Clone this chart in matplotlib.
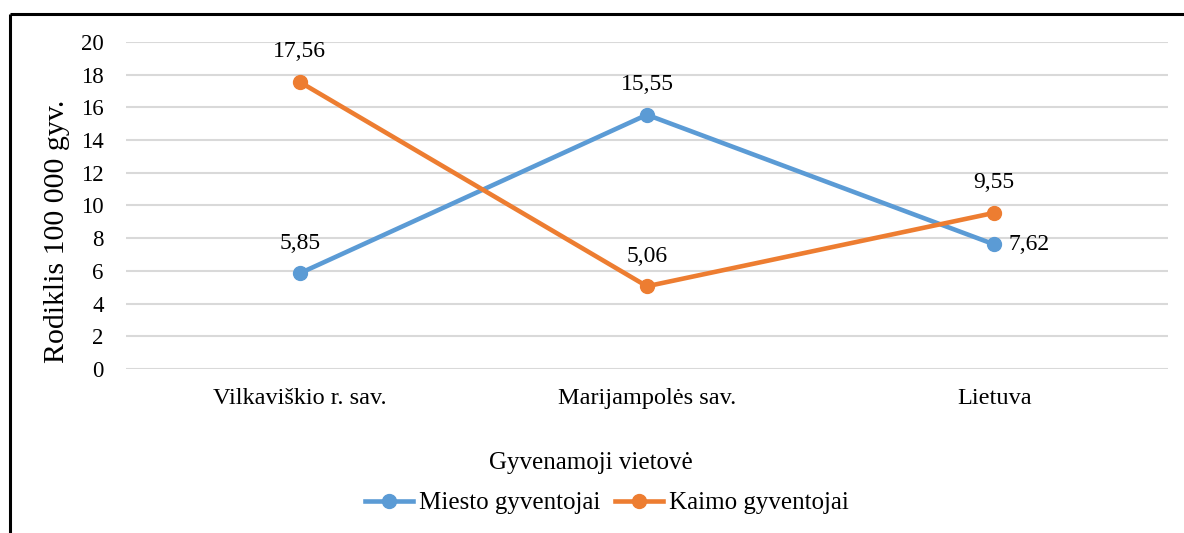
import matplotlib.pyplot as plt

# duomenys
vietoves = ['Vilkaviškio r. sav.', 'Marijampolės sav.', 'Lietuva']
miesto = [5.85, 15.55, 7.62]
kaimo = [17.56, 5.06, 9.55]
y_ticks = [0, 2, 4, 6, 8, 10, 12, 14, 16, 18, 20]

plt.rcParams['font.family'] = ['Liberation Serif', 'DejaVu Serif']

fig = plt.figure(figsize=(11.84, 5.33), dpi=100)
ax = fig.add_axes([0.1064, 0.3077, 0.88, 0.6135])

# rėmelis (kairė ir viršus)
fig.add_artist(plt.Line2D([0.0085, 0.0085], [0, 0.974], color='black', lw=2.2,
                          transform=fig.transFigure, solid_capstyle='butt'))
fig.add_artist(plt.Line2D([0.0085, 1.0], [0.974, 0.974], color='black', lw=2.2,
                          transform=fig.transFigure, solid_capstyle='butt'))

x = range(len(vietoves))
ax.plot(x, miesto, color='#5B9BD5', lw=3.3, marker='o', ms=10,
        label='Miesto gyventojai', zorder=3)
ax.plot(x, kaimo, color='#ED7D31', lw=3.3, marker='o', ms=10,
        label='Kaimo gyventojai', zorder=3)

def fmt(v):
    return f'{v:.2f}'.replace('.', ',')

for i, v in enumerate(miesto):
    if i == 2:
        ax.annotate(fmt(v), (i, v), xytext=(10, 0), textcoords='offset points',
                    ha='left', va='center', fontsize=17)
    else:
        ax.annotate(fmt(v), (i, v), xytext=(0, 14), textcoords='offset points',
                    ha='center', va='bottom', fontsize=17)
for i, v in enumerate(kaimo):
    ax.annotate(fmt(v), (i, v), xytext=(0, 14), textcoords='offset points',
                ha='center', va='bottom', fontsize=17)

ax.set_xlim(-0.5, 2.5)
ax.set_ylim(0, 20)
ax.set_yticks(y_ticks)
ax.set_xticks(list(x))
ax.set_xticklabels(vietoves)
ax.tick_params(length=0)
ax.tick_params(axis='x', labelsize=17.5, pad=14)
ax.tick_params(axis='y', labelsize=16.5, pad=16)
ax.grid(axis='y', color='#D9D9D9', lw=1.5)
ax.set_axisbelow(True)
for s in ax.spines.values():
    s.set_visible(False)

fig.text(591 / 1184, 1 - 463 / 533, 'Gyvenamoji vietovė', fontsize=18,
         ha='center', va='center')
fig.text(57 / 1184, 1 - 231 / 533, 'Rodiklis 100 000 gyv.', fontsize=21.5,
         ha='center', va='center', rotation=90)

ax.legend(loc='center', bbox_to_anchor=(0.4616, -0.41), ncol=2, frameon=False,
          fontsize=18, handlelength=1.9, handletextpad=0.25, columnspacing=0.6)

fig.savefig('out.png', dpi=100)
